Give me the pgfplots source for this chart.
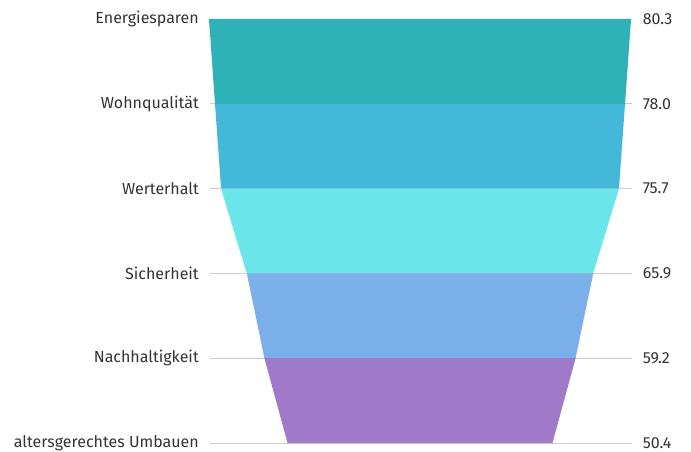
\documentclass[border=0pt]{standalone}
\usepackage{fontspec}
\setmainfont{Fira Sans}
\usepackage{pgfplots}
\usepackage{pgfplotstable}
\pgfplotsset{compat=1.18}
\definecolor{c1}{HTML}{2EB2B8}
\definecolor{c2}{HTML}{44B8D8}
\definecolor{c3}{HTML}{6AE5E9}
\definecolor{c4}{HTML}{7AAFEA}
\definecolor{c5}{HTML}{A079C8}
\definecolor{txt}{HTML}{333333}
\definecolor{gridc}{HTML}{CCCCCC}
\pgfplotstableread[col sep=comma]{
level,value,label
0,80.3,Energiesparen
1,78.0,Wohnqualität
2,75.7,Werterhalt
3,65.9,Sicherheit
4,59.2,Nachhaltigkeit
5,50.4,altersgerechtes Umbauen
}\data
\begin{document}
\begin{tikzpicture}
\begin{axis}[
  width=691bp, height=452bp, scale only axis,
  xmin=-159.8, xmax=103.1, ymin=-0.224, ymax=5.106, y dir=reverse,
  hide axis, clip=false,
]
\draw[draw=none] (rel axis cs:0,0) rectangle (rel axis cs:1,1);
% grid lines
\addplot[gridc, line width=1bp] coordinates {(-79.9,1) (80.7,1)};
\addplot[gridc, line width=1bp] coordinates {(-79.9,2) (80.7,2)};
\addplot[gridc, line width=1bp] coordinates {(-79.9,3) (80.7,3)};
\addplot[gridc, line width=1bp] coordinates {(-79.9,4) (80.7,4)};
\addplot[gridc, line width=1bp] coordinates {(-79.9,5) (80.7,5)};
% funnel segments
\addplot[fill=c1, draw=none] coordinates {(-80.3,0) (80.3,0) (78.0,1) (-78.0,1)} -- cycle;
\addplot[fill=c2, draw=none] coordinates {(-78.0,1) (78.0,1) (75.7,2) (-75.7,2)} -- cycle;
\addplot[fill=c3, draw=none] coordinates {(-75.7,2) (75.7,2) (65.9,3) (-65.9,3)} -- cycle;
\addplot[fill=c4, draw=none] coordinates {(-65.9,3) (65.9,3) (59.2,4) (-59.2,4)} -- cycle;
\addplot[fill=c5, draw=none] coordinates {(-59.2,4) (59.2,4) (50.4,5) (-50.4,5)} -- cycle;
% labels
\addplot[draw=none, mark=none, nodes near coords, point meta=explicit symbolic,
  every node near coord/.append style={anchor=east, inner sep=0pt, text=txt, font=\fontsize{16bp}{18bp}\selectfont}]
  table[x expr=-84.1, y=level, meta=label] {\data};
\addplot[draw=none, mark=none, nodes near coords, point meta=explicit symbolic,
  every node near coord/.append style={anchor=west, inner sep=0pt, text=txt, font=\fontsize{16bp}{18bp}\selectfont}]
  table[x expr=84.7, y=level, meta=value] {\data};
\end{axis}
\end{tikzpicture}
\end{document}
